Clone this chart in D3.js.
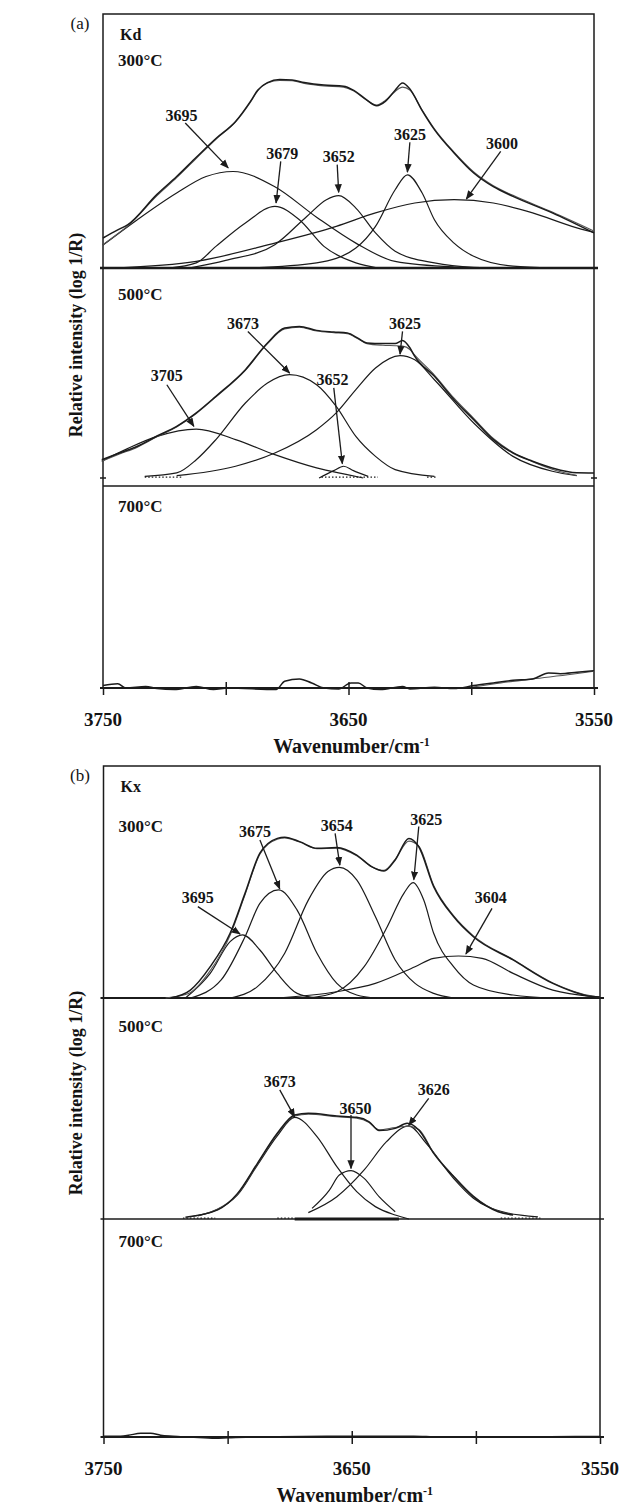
<!DOCTYPE html>
<html lang="en">
<head>
<meta charset="UTF-8">
<title>OH stretching bands, Kd and Kx</title>
<script src="https://d3js.org/d3.v7.min.js"></script>
<style>
  body { margin: 0; background: #fff; }
  text { font-family: "Liberation Serif", "Times New Roman", serif; font-weight: bold; fill: #141414; }
</style>
</head>
<body>
<svg width="619" height="1508"></svg>
<script>
// ---- data: [wavenumber, relative intensity (0 = baseline, 1 = top of sub-panel)] ----
const xTicks = [3750, 3700, 3650, 3600, 3550];
const xTickLabels = ["3750", "", "3650", "", "3550"];

// (a) Kd, 300 °C
const a300Measured = [[3750,0.118],[3744,0.15],[3740,0.17],[3728,0.29],[3720,0.36],[3712,0.436],[3704,0.51],[3696,0.577],[3690,0.655],[3687,0.70],[3683,0.73],[3678,0.742],[3673,0.74],[3668,0.73],[3660,0.72],[3652,0.716],[3648,0.70],[3643,0.665],[3638.5,0.639],[3635,0.656],[3631,0.70],[3628,0.728],[3625,0.705],[3620,0.62],[3615,0.545],[3607,0.453],[3599,0.374],[3591,0.32],[3583,0.282],[3567,0.217],[3550,0.138]];
const a300Fitted = [[3750,0.092],[3744,0.135],[3740,0.165],[3728,0.285],[3720,0.356],[3712,0.432],[3704,0.507],[3696,0.575],[3690,0.652],[3687,0.697],[3683,0.728],[3678,0.738],[3673,0.737],[3668,0.727],[3660,0.717],[3652,0.712],[3648,0.698],[3643,0.663],[3638.5,0.642],[3635,0.66],[3631,0.695],[3628,0.712],[3625,0.70],[3620,0.622],[3615,0.548],[3607,0.456],[3599,0.378],[3591,0.324],[3583,0.286],[3567,0.22],[3550,0.145]];
const a300_3695 = [[3750,0.09],[3736,0.19],[3720,0.295],[3708,0.36],[3697,0.38],[3680,0.32],[3663,0.20],[3647,0.098],[3631,0.026],[3607,0.004],[3590,0]];
const a300_3679 = [[3723,0],[3712,0.02],[3704,0.085],[3692,0.177],[3680,0.243],[3670,0.19],[3660,0.085],[3647,0.02],[3638,0]];
const a300_3652 = [[3715,0],[3700,0.03],[3680,0.092],[3667,0.203],[3659,0.269],[3654,0.285],[3647,0.236],[3639,0.138],[3631,0.066],[3615,0.02],[3599,0.003],[3585,0]];
const a300_3625 = [[3690,0],[3663,0.02],[3647,0.079],[3639,0.164],[3631,0.308],[3626,0.367],[3620,0.295],[3615,0.19],[3607,0.098],[3599,0.046],[3583,0.007],[3567,0]];
const a300_3600 = [[3745,0],[3712,0.026],[3680,0.098],[3655,0.164],[3639,0.217],[3623,0.256],[3607,0.269],[3591,0.256],[3575,0.217],[3559,0.164],[3550,0.14]];
const a300Labels = [
  {text:"3695", at:[3718,0.60], from:[3716.5,0.571], to:[3699,0.394]},
  {text:"3679", at:[3677,0.453], from:[3677.6,0.42], to:[3679.5,0.256]},
  {text:"3652", at:[3654,0.44], from:[3654.6,0.407], to:[3654,0.298]},
  {text:"3625", at:[3625,0.525], from:[3625,0.495], to:[3626,0.378]},
  {text:"3600", at:[3587.5,0.49], from:[3588,0.459], to:[3602,0.272]}
];

// (a) Kd, 500 °C
const a500Measured = [[3750.5,0.087],[3743,0.12],[3736,0.151],[3728,0.2],[3720,0.246],[3712,0.31],[3704,0.389],[3692,0.516],[3683,0.643],[3676,0.714],[3670,0.722],[3663,0.703],[3656,0.695],[3650.5,0.69],[3646,0.665],[3642.5,0.643],[3636,0.64],[3631,0.64],[3628,0.655],[3625,0.62],[3623,0.579],[3615,0.484],[3607,0.373],[3599,0.278],[3591,0.183],[3583,0.119],[3575,0.08],[3567,0.048],[3557,0.025],[3550,0.024]];
const a500Fitted = [[3750.5,0.08],[3743,0.115],[3736,0.147],[3728,0.196],[3720,0.243],[3712,0.307],[3704,0.386],[3692,0.513],[3683,0.64],[3676,0.71],[3670,0.718],[3663,0.70],[3656,0.692],[3650.5,0.687],[3646,0.662],[3642.5,0.64],[3636,0.632],[3631,0.63],[3628,0.628],[3625,0.612],[3623,0.585],[3615,0.49],[3607,0.38],[3599,0.284],[3591,0.188],[3583,0.122],[3575,0.078],[3567,0.042],[3557,0.012]];
const a500_3705 = [[3750.5,0.08],[3740,0.14],[3728,0.198],[3712,0.233],[3696,0.183],[3680,0.111],[3663,0.048],[3650.5,0.016],[3644,0]];
const a500_3673 = [[3733,0.008],[3720,0.024],[3712,0.087],[3704,0.183],[3692,0.357],[3683,0.452],[3674,0.492],[3663,0.444],[3655,0.341],[3647,0.198],[3639,0.103],[3631,0.04],[3615,0.008]];
const a500_3652 = [[3662,0],[3656,0.035],[3652,0.056],[3648,0.035],[3642,0.008]];
const a500_3625 = [[3720,0.011],[3696,0.056],[3680,0.119],[3663,0.23],[3655,0.31],[3647,0.421],[3639,0.524],[3629,0.583],[3623,0.563],[3615,0.468],[3599,0.262],[3583,0.103],[3567,0.032],[3557,0.011]];
const a500Tails = [[3733,3718],[3661,3638],[3618,3614]];   // dotted band tails on the baseline
const a500Labels = [
  {text:"3705", at:[3724,0.487], from:[3724,0.444], to:[3713,0.246]},
  {text:"3673", at:[3693,0.738], from:[3691,0.698], to:[3674,0.5]},
  {text:"3652", at:[3656.5,0.471], from:[3656,0.429], to:[3652.5,0.068]},
  {text:"3625", at:[3627,0.735], from:[3628,0.698], to:[3629,0.59]}
];

// (a) Kd, 700 °C
const a700Measured = [[3750,0.012],[3744,0.021],[3740.7,0],[3732.6,0.008],[3728,-0.003],[3721,-0.008],[3712,0.008],[3705,-0.008],[3699,0],[3679.5,-0.008],[3676,0.033],[3670,0.045],[3665,0.025],[3660,0],[3654,-0.005],[3649,0.025],[3646,0.025],[3642.5,0],[3637,-0.008],[3628,0.008],[3625,-0.005],[3615,0.004],[3607,-0.003],[3599,0.012],[3591,0.025],[3583,0.038],[3575,0.045],[3568.5,0.074],[3563.7,0.071],[3557,0.078],[3550,0.086]];
const a700Fitted = [[3602,0],[3591,0.02],[3575,0.045],[3559,0.068],[3550,0.083]];

// (b) Kx, 300 °C
const b300Measured = [[3723,0],[3715,0.034],[3707,0.135],[3699,0.279],[3693,0.451],[3687,0.624],[3680,0.688],[3677,0.693],[3671,0.674],[3664,0.645],[3656,0.649],[3648,0.616],[3642,0.566],[3637,0.547],[3632.5,0.595],[3627,0.688],[3623,0.652],[3617,0.48],[3609,0.351],[3601,0.264],[3585,0.164],[3569,0.063],[3553,0.006],[3550,0.004]];
const b300Fitted = [[3725,0],[3716,0.018],[3707,0.118],[3699,0.27],[3693,0.445],[3687,0.62],[3680,0.684],[3677,0.69],[3671,0.672],[3664,0.643],[3656,0.646],[3648,0.613],[3642,0.566],[3637,0.55],[3632.5,0.598],[3627,0.676],[3623,0.655],[3617,0.485],[3609,0.355],[3601,0.268],[3585,0.166],[3569,0.065],[3553,0.008],[3550,0.004]];
const b300_3695 = [[3717,0],[3707,0.106],[3699,0.243],[3694,0.272],[3687,0.207],[3680,0.106],[3672,0.02],[3664,0]];
const b300_3675 = [[3715,0],[3702.6,0.078],[3693,0.264],[3687,0.408],[3679.5,0.466],[3672,0.379],[3664,0.193],[3656,0.063],[3648,0.013],[3640,0]];
const b300_3654 = [[3699,0],[3688,0.049],[3677,0.193],[3667.5,0.422],[3659.6,0.545],[3655,0.563],[3648,0.509],[3640.5,0.351],[3632.5,0.164],[3624.5,0.063],[3617,0.02],[3609,0]];
const b300_3625 = [[3667.5,0],[3656,0.027],[3645,0.135],[3635.7,0.307],[3629,0.451],[3625.3,0.497],[3621,0.422],[3617,0.279],[3609,0.135],[3601,0.056],[3585,0.013],[3569,0]];
const b300_3604 = [[3680,0],[3656,0.027],[3640.5,0.063],[3624.5,0.135],[3617,0.171],[3607,0.181],[3597.5,0.171],[3585,0.106],[3569,0.034],[3553,0.006]];
const b300Labels = [
  {text:"3695", at:[3712,0.434], from:[3712,0.394], to:[3695,0.276]},
  {text:"3675", at:[3689,0.717], from:[3687,0.681], to:[3679,0.47]},
  {text:"3654", at:[3656,0.746], from:[3656.7,0.71], to:[3654.8,0.573]},
  {text:"3625", at:[3620,0.77], from:[3623,0.739], to:[3625,0.51]},
  {text:"3604", at:[3594,0.434], from:[3593.5,0.386], to:[3604,0.19]}
];

// (b) Kx, 500 °C
const b500Measured = [[3717,0.008],[3704,0.041],[3696,0.116],[3688,0.252],[3680,0.388],[3673,0.471],[3667.5,0.478],[3656,0.466],[3648,0.46],[3643,0.44],[3639,0.4],[3632.5,0.41],[3627.7,0.433],[3623,0.403],[3617,0.297],[3609,0.192],[3601,0.101],[3591,0.033],[3585,0.018]];
const b500Fitted = [[3715,0.01],[3704,0.045],[3696,0.112],[3688,0.248],[3680,0.384],[3673,0.466],[3667.5,0.474],[3656,0.463],[3648,0.456],[3643,0.437],[3639,0.404],[3632.5,0.414],[3627.7,0.42],[3623,0.405],[3617,0.3],[3609,0.195],[3601,0.104],[3591,0.035],[3585,0.02]];
const b500_3673 = [[3712,0.014],[3696,0.109],[3688,0.244],[3680,0.376],[3673,0.46],[3664,0.373],[3656,0.237],[3648,0.124],[3640.5,0.056],[3632.5,0.018],[3627,0]];
const b500_3650 = [[3666,0.048],[3659,0.131],[3655,0.199],[3650.3,0.219],[3645,0.184],[3639,0.101],[3632.5,0.033]];
const b500_3626 = [[3667.5,0.029],[3656,0.101],[3645,0.222],[3636,0.35],[3627,0.421],[3620,0.342],[3609,0.184],[3601,0.094],[3588,0.029],[3575,0.01]];
const b500Tails = [[3718,3705],[3680,3673],[3590,3574]];
const b500Overlap = [[3673,3631]];   // band tails lying on the baseline (thick)
const b500Labels = [
  {text:"3673", at:[3679,0.621], from:[3679,0.584], to:[3673,0.462]},
  {text:"3650", at:[3648.5,0.5], from:[3650.3,0.471], to:[3650.3,0.229]},
  {text:"3626", at:[3617,0.587], from:[3619,0.546], to:[3627,0.425]}
];

// (b) Kx, 700 °C
const b700Measured = [[3750,0.003],[3745,0.003],[3740,0.008],[3735,0.017],[3731,0.017],[3727,0.008],[3722,0.004],[3715,0],[3705,-0.006],[3700,-0.004],[3690,0],[3660,0.003],[3650,0.004],[3640,0.003],[3625,0.004],[3615,0],[3580,0],[3560,0.002],[3550,0.002]];

// ---- layout ----
const panels = [
  { tag: "(a)", sample: "Kd", left: 103, right: 594, top: 14, tickY: 719, titleY: 746, ylabelY: 335,
    subs: [
      { temp: "300°C", top: 14, base: 268, baseWidth: 2.6, tempY: 60, measured: a300Measured, fitted: a300Fitted,
        bands: [a300_3695, a300_3679, a300_3652, a300_3625, a300_3600], labels: a300Labels, tails: [], overlap: [] },
      { temp: "500°C", top: 268, base: 478, baseWidth: 0, tempY: 294, measured: a500Measured, fitted: a500Fitted,
        bands: [a500_3705, a500_3673, a500_3652, a500_3625], labels: a500Labels, tails: a500Tails, overlap: [] },
      { temp: "700°C", top: 486, base: 688, tempY: 506, measured: a700Measured, fitted: a700Fitted,
        bands: [], labels: [], tails: [], overlap: [] }
    ] },
  { tag: "(b)", sample: "Kx", left: 103.5, right: 600, top: 766, tickY: 1468, titleY: 1495, ylabelY: 1093,
    subs: [
      { temp: "300°C", top: 766, base: 998, baseWidth: 2.2, tempY: 826, measured: b300Measured, fitted: b300Fitted,
        bands: [b300_3695, b300_3675, b300_3654, b300_3625, b300_3604], labels: b300Labels, tails: [], overlap: [] },
      { temp: "500°C", top: 998, base: 1219, baseWidth: 1.6, tempY: 1026, measured: b500Measured, fitted: b500Fitted,
        bands: [b500_3673, b500_3650, b500_3626], labels: b500Labels, tails: b500Tails, overlap: b500Overlap },
      { temp: "700°C", top: 1219, base: 1437, tempY: 1241, measured: b700Measured, fitted: null,
        bands: [], labels: [], tails: [], overlap: [] }
    ] }
];

const ink = "#1b1b1b";
const svg = d3.select("svg");

svg.append("defs").append("marker")
  .attr("id", "head")
  .attr("viewBox", "0 0 10 10")
  .attr("refX", 9).attr("refY", 5)
  .attr("markerWidth", 9).attr("markerHeight", 9)
  .attr("markerUnits", "userSpaceOnUse")
  .attr("orient", "auto")
  .append("path").attr("d", "M0,1 L10,5 L0,9 Z").attr("fill", ink);

panels.forEach(p => {
  const x = d3.scaleLinear().domain([3750, 3550]).range([p.left, p.right]);
  const g = svg.append("g");
  const last = p.subs[p.subs.length - 1];

  // outer frame
  g.append("rect")
    .attr("x", p.left).attr("y", p.top)
    .attr("width", p.right - p.left).attr("height", last.base - p.top)
    .attr("fill", "none").attr("stroke", ink).attr("stroke-width", 1.5);

  g.append("text").attr("x", 80).attr("y", p.top + 9).attr("dy", "0.35em")
    .attr("text-anchor", "middle").style("font-weight", "normal").style("font-size", "17px").text(p.tag);
  g.append("text").attr("x", p.left + 17).attr("y", p.top + 20).attr("dy", "0.35em")
    .style("font-size", "16px").text(p.sample);

  p.subs.forEach((s, i) => {
    const y = d3.scaleLinear().domain([0, 1]).range([s.base, s.top]);
    const line = d3.line().x(d => x(d[0])).y(d => y(d[1])).curve(d3.curveMonotoneX);

    // sub-panel baseline / separator
    if (s !== last) {
      if (s.baseWidth > 0) {
        g.append("line").attr("x1", p.left - 3).attr("x2", p.right + 4)
          .attr("y1", s.base).attr("y2", s.base)
          .attr("stroke", ink).attr("stroke-width", s.baseWidth);
      } else {
        // only short marks at the frame edges
        [p.left, p.right].forEach(ex => g.append("line")
          .attr("x1", ex - 3).attr("x2", ex + 3).attr("y1", s.base).attr("y2", s.base)
          .attr("stroke", ink).attr("stroke-width", 1.5));
      }
    }
    if (i > 0 && s.top !== p.subs[i - 1].base) {
      g.append("line").attr("x1", p.left).attr("x2", p.right)
        .attr("y1", s.top).attr("y2", s.top)
        .attr("stroke", ink).attr("stroke-width", 1.5);
    }

    g.append("text").attr("x", p.left + 15).attr("y", s.tempY).attr("dy", "0.35em")
      .style("font-size", "17px").text(s.temp);

    s.tails.forEach(t => g.append("line")
      .attr("x1", x(t[0])).attr("x2", x(t[1])).attr("y1", y(0.004)).attr("y2", y(0.004))
      .attr("stroke", ink).attr("stroke-width", 1.4).attr("stroke-dasharray", "1.5,2"));
    s.overlap.forEach(t => g.append("line")
      .attr("x1", x(t[0])).attr("x2", x(t[1])).attr("y1", y(0)).attr("y2", y(0))
      .attr("stroke", ink).attr("stroke-width", 3));

    s.bands.forEach(b => {
      g.append("path").attr("d", line(b)).attr("fill", "none")
        .attr("stroke", ink).attr("stroke-width", 1.2);
    });
    if (s.fitted) {
      g.append("path").attr("d", line(s.fitted)).attr("fill", "none")
        .attr("stroke", "#555").attr("stroke-width", 1.1);
    }
    g.append("path").attr("d", line(s.measured)).attr("fill", "none")
      .attr("stroke", ink).attr("stroke-width", 1.5);

    s.labels.forEach(l => {
      g.append("line")
        .attr("x1", x(l.from[0])).attr("y1", y(l.from[1]))
        .attr("x2", x(l.to[0])).attr("y2", y(l.to[1]))
        .attr("stroke", ink).attr("stroke-width", 1.3)
        .attr("marker-end", "url(#head)");
      g.append("text").attr("x", x(l.at[0])).attr("y", y(l.at[1])).attr("dy", "0.35em")
        .attr("text-anchor", "middle").style("font-size", "16px").text(l.text);
    });
  });

  // wavenumber axis on the last baseline
  const axis = g.append("g").attr("transform", `translate(0,${last.base})`)
    .call(d3.axisBottom(x).tickValues(xTicks).tickSize(6).tickFormat(() => ""));
  axis.select(".domain").attr("stroke", ink).attr("stroke-width", 1.8)
    .attr("d", `M${p.left - 3},0H${p.right + 4}`);
  axis.selectAll(".tick line").attr("stroke", ink).attr("stroke-width", 1.5)
    .attr("y1", (d, i) => (i === 0 || i === xTicks.length - 1) ? 0 : -6).attr("y2", 7);

  g.selectAll(".ticklab").data(xTicks).enter().append("text")
    .attr("x", d => x(d)).attr("y", p.tickY).attr("dy", "0.35em")
    .attr("text-anchor", "middle").style("font-size", "19px")
    .text((d, i) => xTickLabels[i]);

  const title = g.append("text").attr("x", (p.left + p.right) / 2 + 3).attr("y", p.titleY)
    .attr("dy", "0.35em").attr("text-anchor", "middle").style("font-size", "20px");
  title.append("tspan").text("Wavenumber/cm");
  title.append("tspan").attr("dy", "-0.55em").style("font-size", "12px").text("-1");

  g.append("text")
    .attr("transform", `translate(76,${p.ylabelY}) rotate(-90)`)
    .attr("dy", "0.35em").attr("text-anchor", "middle").style("font-size", "18px")
    .text("Relative intensity (log 1/R)");
});
</script>
</body>
</html>
